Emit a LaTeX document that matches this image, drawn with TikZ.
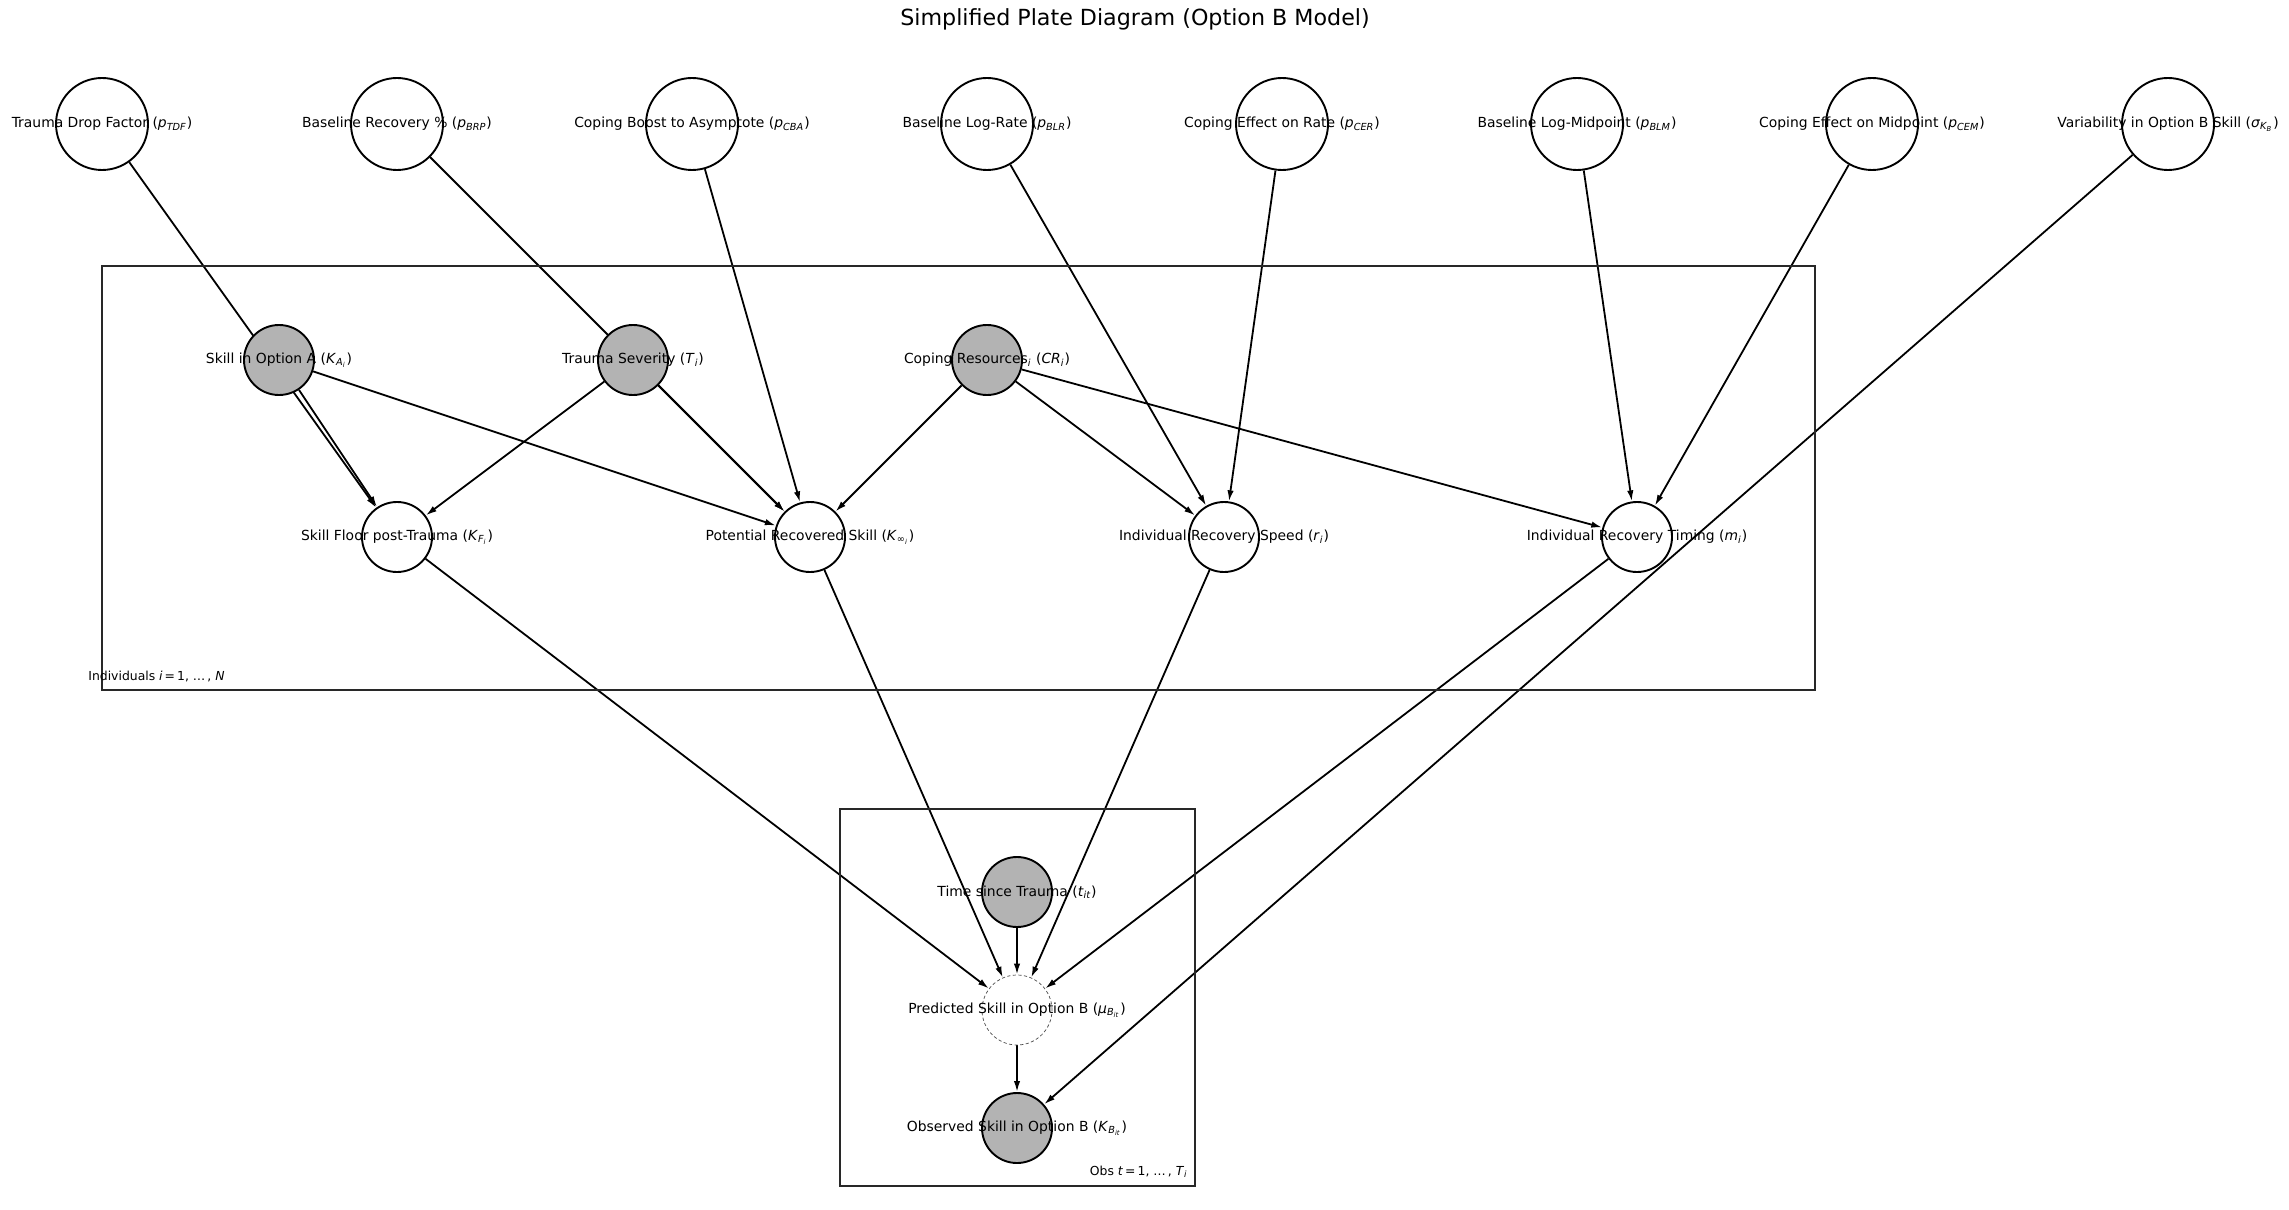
\documentclass[tikz,border=0pt]{standalone}
\usepackage{fontspec}
\setmainfont{DejaVu Sans}
\usetikzlibrary{arrows.meta}
\pgfdeclarelayer{bgfill}
\pgfdeclarelayer{background}
\pgfsetlayers{bgfill,background,main}
\definecolor{shade}{RGB}{179,179,179}
\definecolor{platecol}{RGB}{40,40,40}
\newcommand\vv[2]{\textit{#1}\textsubscript{\itshape #2}}
\newcommand\lblfont{\fontsize{6.95}{8}\selectfont}
\newcommand\platefont{\fontsize{6.2}{7}\selectfont}
\tikzset{
  x=0.5pt, y=-0.5pt,
  basenode/.style={circle, draw=black, line width=0.95pt, inner sep=0pt, outer sep=0.5pt},
  topnode/.style={basenode, fill=white, minimum size=46pt},
  obsnode/.style={basenode, fill=shade, minimum size=35pt},
  latnode/.style={basenode, fill=white, minimum size=35pt},
  detnode/.style={circle, draw=black!70, line width=0.35pt, dash pattern=on 1.6pt off 1.2pt, fill=white, inner sep=0pt, minimum size=35pt},
  lbl/.style={inner sep=0pt, font=\lblfont},
  edge/.style={line width=0.9pt, -{Latex[length=5.5pt,width=3.2pt]}},
  plate/.style={draw=platecol, line width=0.95pt},
}
\begin{document}
\begin{tikzpicture}
\begin{pgfonlayer}{bgfill}
\fill[white] (0,0) rectangle (2289,1209);
\end{pgfonlayer}
\useasboundingbox (0,0) rectangle (2289,1209);

\node[font=\fontsize{11.1}{13}\selectfont, inner sep=0pt] (title) at (1135,19) {Simplified Plate Diagram (Option B Model)};

% plates
\node[plate, rectangle, inner sep=0pt, minimum width=856.5pt, minimum height=212pt] (plateI) at (958.5,478) {};
\node[plate, rectangle, inner sep=0pt, minimum width=177.5pt, minimum height=188.5pt] (plateT) at (1017.5,997.5) {};
\node[anchor=west, inner sep=0pt, font=\platefont] (plateIlbl) at (88,677) {Individuals \textit{i}\,=\,1, …\,, \textit{N}};
\node[anchor=east, inner sep=0pt, font=\platefont] (plateTlbl) at (1188,1172) {Obs \textit{t}\,=\,1, …\,, \vv{T}{i}};

% top-level parameters
\node[topnode, label={[lbl]center:Trauma Drop Factor (\vv{p}{TDF})}] (tdf) at (102,124) {};
\node[topnode, label={[lbl]center:Baseline Recovery \% (\vv{p}{BRP})}] (brp) at (397,124) {};
\node[topnode, label={[lbl]center:Coping Boost to Asymptote (\vv{p}{CBA})}] (cba) at (692,124) {};
\node[topnode, label={[lbl]center:Baseline Log-Rate (\vv{p}{BLR})}] (blr) at (987,124) {};
\node[topnode, label={[lbl]center:Coping Effect on Rate (\vv{p}{CER})}] (cer) at (1282,124) {};
\node[topnode, label={[lbl]center:Baseline Log-Midpoint (\vv{p}{BLM})}] (blm) at (1577,124) {};
\node[topnode, label={[lbl]center:Coping Effect on Midpoint (\vv{p}{CEM})}] (cem) at (1872,124) {};
\node[topnode, label={[lbl]center:Variability in Option B Skill (\textit{σ}\textsubscript{\itshape K\textsubscript{B}})}] (sig) at (2168,124) {};

% individual-level observed
\node[obsnode, label={[lbl]center:Skill in Option A (\textit{K}\textsubscript{\itshape A\textsubscript{i}})}] (ska) at (279,360) {};
\node[obsnode, label={[lbl]center:Trauma Severity (\vv{T}{i})}] (trs) at (633,360) {};
\node[obsnode, label={[lbl]center:Coping Resources\textsubscript{\itshape i} (\textit{CR}\textsubscript{\itshape i})}] (cor) at (987,360) {};

% individual-level latent
\node[latnode, label={[lbl]center:Skill Floor post-Trauma (\textit{K}\textsubscript{\itshape F\textsubscript{i}})}] (flo) at (397,537) {};
\node[latnode, label={[lbl]center:Potential Recovered Skill (\textit{K}\textsubscript{∞\textsubscript{\itshape i}})}] (pot) at (810,537) {};
\node[latnode, label={[lbl]center:Individual Recovery Speed (\vv{r}{i})}] (spd) at (1224,537) {};
\node[latnode, label={[lbl]center:Individual Recovery Timing (\vv{m}{i})}] (tim) at (1637,537) {};

% observation-level
\node[obsnode, label={[lbl]center:Time since Trauma (\vv{t}{it})}] (tst) at (1017,892) {};
\node[detnode, label={[lbl]center:Predicted Skill in Option B (\textit{μ}\textsubscript{\itshape B\textsubscript{it}})}] (pred) at (1017,1010) {};
\node[obsnode, label={[lbl]center:Observed Skill in Option B (\textit{K}\textsubscript{\itshape B\textsubscript{it}})}] (obs) at (1017,1128) {};

\begin{pgfonlayer}{background}
\draw[edge] (tdf) -- (flo);
\draw[edge] (brp) -- (pot);
\draw[edge] (cba) -- (pot);
\draw[edge] (blr) -- (spd);
\draw[edge] (cer) -- (spd);
\draw[edge] (blm) -- (tim);
\draw[edge] (cem) -- (tim);
\draw[edge] (sig) -- (obs);
\draw[edge] (ska) -- (flo);
\draw[edge] (ska) -- (pot);
\draw[edge] (trs) -- (flo);
\draw[edge] (trs) -- (pot);
\draw[edge] (cor) -- (pot);
\draw[edge] (cor) -- (spd);
\draw[edge] (cor) -- (tim);
\draw[edge] (flo) -- (pred);
\draw[edge] (pot) -- (pred);
\draw[edge] (spd) -- (pred);
\draw[edge] (tim) -- (pred);
\draw[edge] (tst) -- (pred);
\draw[edge] (pred) -- (obs);
\end{pgfonlayer}
\end{tikzpicture}
\end{document}
